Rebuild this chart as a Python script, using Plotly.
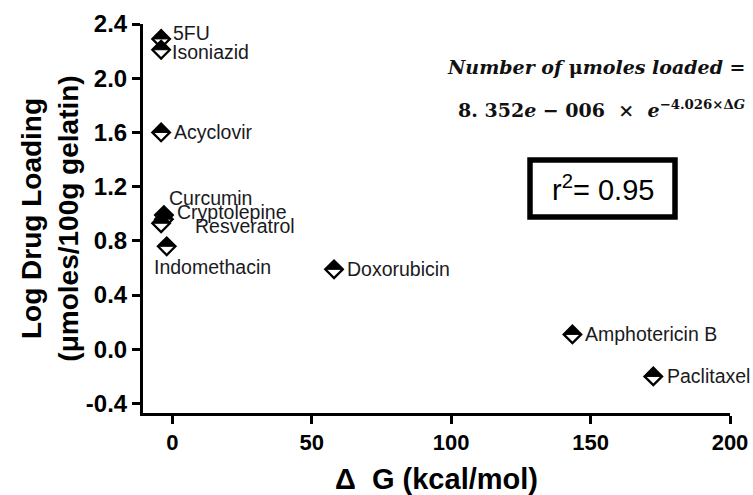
import plotly.graph_objects as go

drugs = ["5FU", "Isoniazid", "Acyclovir", "Curcumin", "Cryptolepine", "Resveratrol",
         "Indomethacin", "Doxorubicin", "Amphotericin B", "Paclitaxel"]
delta_g = [-4, -4, -4, -3, -3, -4, -2, 58, 143.5, 172.5]
log_loading = [2.29, 2.21, 1.6, 0.99, 0.96, 0.93, 0.76, 0.59, 0.11, -0.2]
# label offsets in pixels (x, y)
label_dx = [10, 9, 11, 3, 11, 32, -15, 11, 11, 12]
label_dy = [6, -2, 0, 17, 7, -3, -21, 0, 0, 0]

x_ticks = [0, 50, 100, 150, 200]
y_ticks = [-0.4, 0.0, 0.4, 0.8, 1.2, 1.6, 2.0, 2.4]

fig = go.Figure()
fig.add_trace(go.Scatter(
    x=delta_g, y=log_loading, mode="markers",
    marker=dict(symbol="diamond", size=13.5, color="white",
                line=dict(color="black", width=2.3)),
    showlegend=False, hoverinfo="skip"))

shapes = []
for xv, yv in zip(delta_g, log_loading):
    shapes.append(dict(type="path", xref="x", yref="y",
                       xsizemode="pixel", ysizemode="pixel",
                       xanchor=xv, yanchor=yv,
                       path="M -8.8,0 L 0,8.8 L 8.8,0 Z",
                       fillcolor="black", line=dict(color="black", width=1)))
# r^2 box
PW, PH = 587, 389
shapes.append(dict(type="rect", xref="paper", yref="paper",
                   x0=(530 - 143) / PW, x1=(675 - 143) / PW,
                   y0=(413 - 217) / PH, y1=(413 - 160) / PH,
                   line=dict(color="black", width=5.5), fillcolor="rgba(0,0,0,0)"))

LBL = dict(family="Arial, Liberation Sans", size=19.5, color="#1a1a22")
annotations = []
for name, xv, yv, dx, dy in zip(drugs, delta_g, log_loading, label_dx, label_dy):
    annotations.append(dict(x=xv, y=yv, text=name, showarrow=False,
                            xanchor="left", yanchor="middle",
                            xshift=dx, yshift=dy, font=LBL))

EQ = dict(family="DejaVu Serif, Liberation Serif", size=19, color="#111")
annotations += [
    dict(xref="paper", yref="paper", x=(596 - 143) / PW, y=(413 - 67) / PH,
         xanchor="center", yanchor="middle",
         text="<b><i>Number of </i>μ<i>moles loaded =</i></b>", showarrow=False, font=EQ),
    dict(xref="paper", yref="paper", x=(601 - 143) / PW, y=(413 - 109) / PH,
         xanchor="center", yanchor="middle",
         text="<b>8. 352<i>e</i> − 006  ×  <i>e</i><sup>−4.026×Δ<i>G</i></sup></b>",
         showarrow=False, font=EQ),
    dict(xref="paper", yref="paper", x=(603 - 143) / PW, y=(413 - 188) / PH,
         xanchor="center", yanchor="middle",
         text="r<sup>2</sup>= 0.95", showarrow=False,
         font=dict(family="Arial, Liberation Sans", size=29, color="black")),
]

fig.update_layout(
    width=753, height=495,
    margin=dict(l=143, r=23, t=24, b=82),
    paper_bgcolor="white", plot_bgcolor="white",
    shapes=shapes, annotations=annotations,
    font=dict(family="Arial, Liberation Sans", color="black"),
    xaxis=dict(range=[-10.5, 200], tickvals=x_ticks, ticktext=[str(v) for v in x_ticks],
               automargin=False,
               showline=True, linecolor="black", linewidth=3,
               ticks="outside", ticklen=8, tickwidth=3, tickcolor="black",
               showgrid=False, zeroline=False,
               tickfont=dict(family="Arial, Liberation Sans", size=22, color="black", weight="bold"),
               title=dict(text="<b>Δ  G (kcal/mol)</b>", standoff=16,
                          font=dict(family="Arial, Liberation Sans", size=29, color="black"))),
    yaxis=dict(range=[-0.47, 2.4], tickvals=y_ticks, ticktext=[f"{v:.1f}" for v in y_ticks],
               automargin=False,
               showline=True, linecolor="black", linewidth=3,
               ticks="outside", ticklen=8, tickwidth=3, tickcolor="black",
               showgrid=False, zeroline=False,
               tickfont=dict(family="Arial, Liberation Sans", size=24, color="black", weight="bold"),
               title=dict(text="<b>Log Drug Loading<br>(μmoles/100g gelatin)</b>", standoff=0,
                          font=dict(family="Arial, Liberation Sans", size=28, color="black"))),
)

fig.write_html("out.html")
